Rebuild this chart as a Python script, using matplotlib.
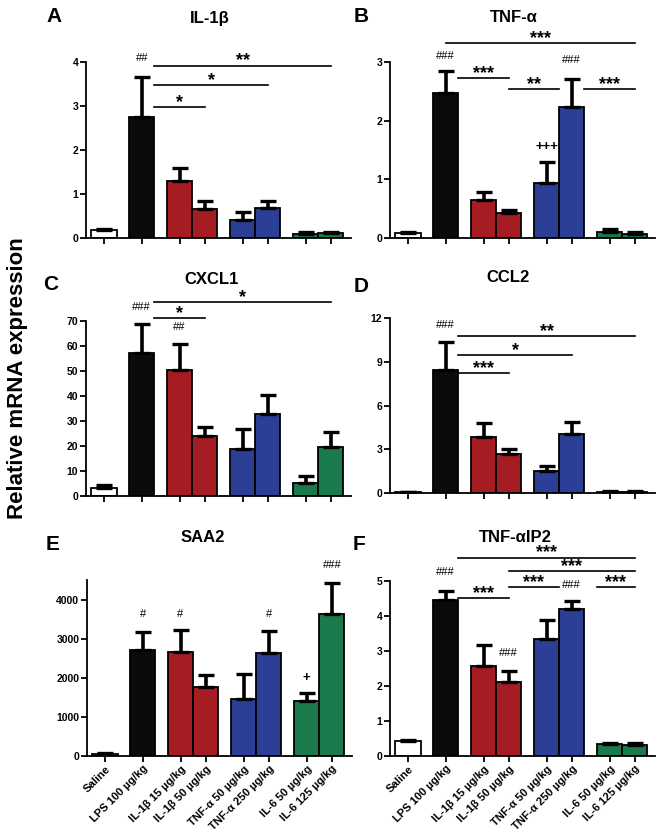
import matplotlib
matplotlib.use('Agg')
import matplotlib.pyplot as plt
import numpy as np

plt.rcParams['font.family'] = ['Liberation Sans', 'DejaVu Sans']
plt.rcParams['font.weight'] = 'bold'

groups = ['Saline', 'LPS 100 µg/kg', 'IL-1β 15 µg/kg', 'IL-1β 50 µg/kg',
          'TNF-α 50 µg/kg', 'TNF-α 250 µg/kg', 'IL-6 50 µg/kg', 'IL-6 125 µg/kg']
bar_colors = ['white', '#0b0b0b', '#a51d22', '#a51d22',
              '#2c3f97', '#2c3f97', '#1b7a4c', '#1b7a4c']

il1b_mean = [0.19, 2.74, 1.29, 0.65, 0.41, 0.69, 0.10, 0.11]
il1b_err = [0.02, 0.93, 0.30, 0.18, 0.18, 0.14, 0.03, 0.03]
tnfa_mean = [0.08, 2.47, 0.64, 0.42, 0.94, 2.23, 0.11, 0.07]
tnfa_err = [0.02, 0.37, 0.15, 0.05, 0.35, 0.48, 0.04, 0.03]
cxcl1_mean = [3.3, 57.2, 50.3, 24.0, 18.9, 32.9, 5.2, 19.5]
cxcl1_err = [1.2, 11.5, 10.6, 3.6, 8.0, 7.4, 2.8, 6.0]
ccl2_mean = [0.08, 8.43, 3.83, 2.69, 1.48, 4.03, 0.08, 0.10]
ccl2_err = [0.02, 1.95, 0.95, 0.34, 0.39, 0.82, 0.03, 0.03]
saa2_mean = [55, 2700, 2670, 1775, 1455, 2630, 1415, 3640]
saa2_err = [10, 470, 540, 300, 635, 555, 190, 790]
tnfaip2_mean = [0.42, 4.45, 2.56, 2.11, 3.35, 4.21, 0.33, 0.32]
tnfaip2_err = [0.05, 0.26, 0.62, 0.31, 0.53, 0.21, 0.05, 0.04]

# significance lines: (bar from, side offset, bar to, side offset, height, label)
il1b_sig = [(1, 0.5, 7, 0, 3.92, '**'), (1, 0.5, 5, 0, 3.48, '*'), (1, 0.5, 3, 0, 2.98, '*')]
tnfa_sig = [(1, 0, 7, 0, 3.33, '***'), (1, 0.5, 3, 0, 2.73, '***'),
            (3, 0, 4, 0.5, 2.54, '**'), (5, 0.5, 7, 0, 2.54, '***')]
cxcl1_sig = [(1, 0.5, 7, 0, 77.6, '*'), (1, 0.5, 3, 0, 71.2, '*')]
ccl2_sig = [(1, 0.5, 7, 0, 10.77, '**'), (1, 0.5, 5, 0, 9.45, '*'), (1, 0.5, 3, 0, 8.2, '***')]
saa2_sig = []
tnfaip2_sig = [(1, 0.5, 7, 0, 5.67, '***'), (3, 0, 7, 0, 5.29, '***'),
               (3, 0, 4, 0.5, 4.83, '***'), (6, -0.5, 7, 0, 4.83, '***'),
               (1, 0.5, 3, 0, 4.52, '***')]

# marks above bars: (bar, height, label)
il1b_marks = [(1, 3.98, '##')]
tnfa_marks = [(1, 3.02, '###'), (5, 2.95, '###'), (4, 1.45, '+++')]
cxcl1_marks = [(1, 73.5, '###'), (2, 65.5, '##')]
ccl2_marks = [(1, 11.2, '###')]
saa2_marks = [(1, 3500, '#'), (2, 3500, '#'), (5, 3500, '#'), (6, 1850, '+'), (7, 4750, '###')]
tnfaip2_marks = [(1, 5.12, '###'), (5, 4.75, '###'), (3, 2.8, '###')]

pos = np.array([0, 1.5, 3, 4, 5.5, 6.5, 8, 9])
W, H = 662, 840
fig = plt.figure(figsize=(W / 100, H / 100), dpi=100)


def add_ax(l, t, r, b):
    return fig.add_axes([l / W, 1 - b / H, (r - l) / W, (b - t) / H])


def draw_panel(ax, mean, err, sig, marks, ymax, yticks, show_labels):
    ax.bar(pos, mean, width=1.0, color=bar_colors, edgecolor='black', linewidth=1.3, zorder=2)
    ax.errorbar(pos, mean, yerr=[np.zeros(len(err)), err], fmt='none', ecolor='black',
                elinewidth=2.6, capsize=6, capthick=2.4, zorder=3)
    ax.set_xlim(-0.71, 9.8)
    ax.set_ylim(0, ymax)
    ax.set_yticks(yticks)
    ax.set_xticks(pos)
    for s in ['top', 'right']:
        ax.spines[s].set_visible(False)
    for s in ['left', 'bottom']:
        ax.spines[s].set_linewidth(1.3)
    ax.tick_params(axis='both', direction='out', length=4, width=1.3, labelsize=7.5, pad=1.5)
    if show_labels:
        ax.set_xticklabels(groups, rotation=45, ha='right', rotation_mode='anchor', fontsize=8)
    else:
        ax.set_xticklabels([])
    for a, oa, b, ob, h, lab in sig:
        x0, x1 = pos[a] + oa, pos[b] + ob
        ax.plot([x0, x1], [h, h], color='black', lw=1.2, clip_on=False)
        ax.text((x0 + x1) / 2, h, lab, ha='center', va='baseline', fontsize=13)
    for i, h, lab in marks:
        if lab.startswith('+'):
            ax.text(pos[i], h, lab, ha='center', va='bottom', fontsize=9.5)
        else:
            ax.text(pos[i], h, lab, ha='center', va='bottom', fontsize=8, fontweight='normal')


axA = add_ax(86, 62, 351, 238)
draw_panel(axA, il1b_mean, il1b_err, il1b_sig, il1b_marks, 4, [0, 1, 2, 3, 4], False)
axB = add_ax(390, 62, 655, 238)
draw_panel(axB, tnfa_mean, tnfa_err, tnfa_sig, tnfa_marks, 3, [0, 1, 2, 3], False)
axC = add_ax(86, 321, 351, 496)
draw_panel(axC, cxcl1_mean, cxcl1_err, cxcl1_sig, cxcl1_marks, 70, range(0, 71, 10), False)
axD = add_ax(390, 318, 655, 493)
draw_panel(axD, ccl2_mean, ccl2_err, ccl2_sig, ccl2_marks, 12, [0, 3, 6, 9, 12], False)
axE = add_ax(87, 580, 352, 756)
draw_panel(axE, saa2_mean, saa2_err, saa2_sig, saa2_marks, 4500, [0, 1000, 2000, 3000, 4000], True)
axF = add_ax(390, 581, 655, 756)
draw_panel(axF, tnfaip2_mean, tnfaip2_err, tnfaip2_sig, tnfaip2_marks, 5, [0, 1, 2, 3, 4, 5], True)


def fig_text(x, y, s, size):
    fig.text(x / W, 1 - y / H, s, ha='center', va='center', fontsize=size, fontweight='bold')


for lab, x, y in [('A', 54, 16), ('B', 361, 16), ('C', 51, 285),
                  ('D', 361, 286), ('E', 53, 545), ('F', 359, 545)]:
    fig_text(x, y, lab, 15)
for lab, x, y in [('IL-1β', 210, 18), ('TNF-α', 514, 18), ('CXCL1', 212, 280),
                  ('CCL2', 508, 277), ('SAA2', 203, 537), ('TNF-αIP2', 515, 537)]:
    fig_text(x, y, lab, 12)

fig.text(18 / W, 1 - 378 / H, 'Relative mRNA expression', rotation=90,
         ha='center', va='center', fontsize=16, fontweight='bold')

plt.savefig('out.png', dpi=100)
